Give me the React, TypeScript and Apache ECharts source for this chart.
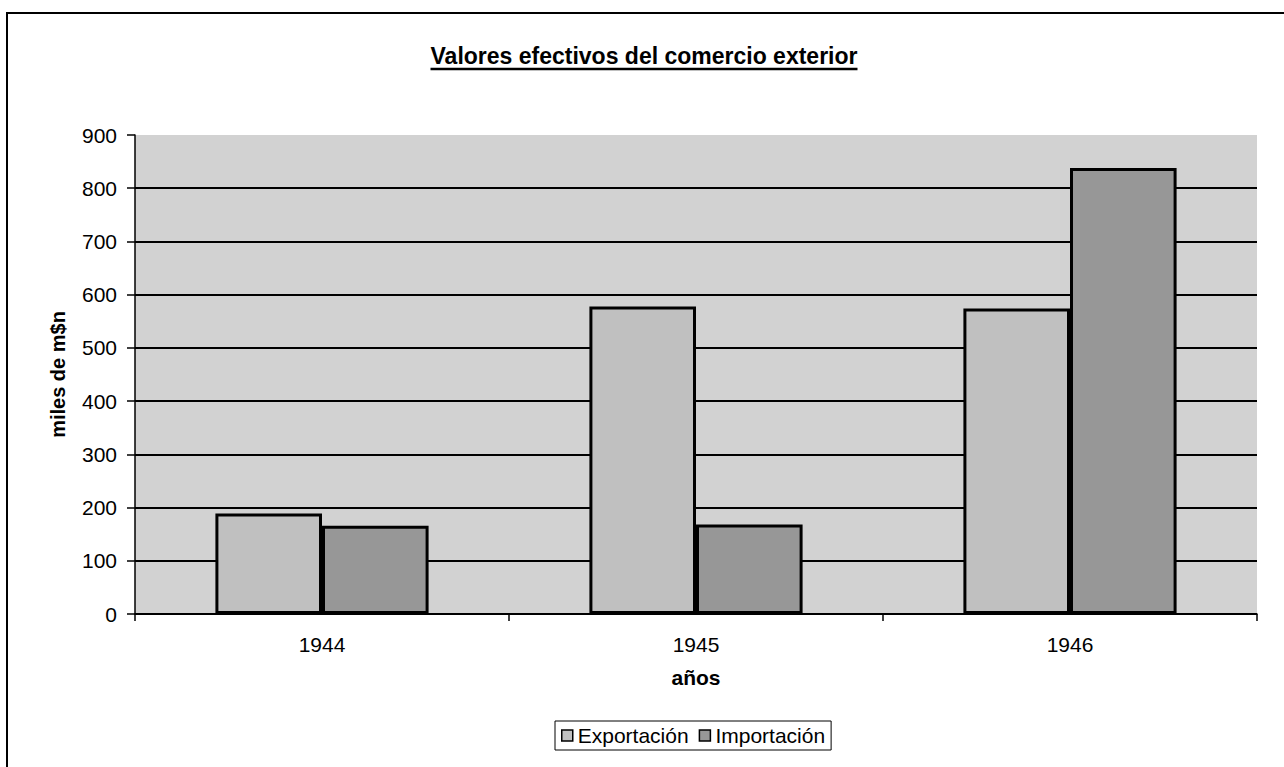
import React, { useEffect, useRef } from "react";
import * as echarts from "echarts";

const years = ["1944", "1945", "1946"];
const exportacion = [189, 578, 574];
const importacion = [166, 168, 838];
const yTicks = { min: 0, max: 900, interval: 100 };
const titleText = "Valores efectivos del comercio exterior";

export default function App() {
  const ref = useRef<HTMLDivElement>(null);
  useEffect(() => {
    document.body.style.margin = "0";
    const chart = echarts.init(ref.current!, null, { renderer: "svg" });
    const font = "Liberation Sans, Arial, sans-serif";
    const titleSize = 23;
    const cnv = document.createElement("canvas");
    const ctx = cnv.getContext("2d")!;
    ctx.font = `bold ${titleSize}px "Liberation Sans"`;
    const tw = ctx.measureText(titleText).width;
    const tcx = 644;
    chart.setOption({
      animation: false,
      backgroundColor: "#ffffff",
      textStyle: { fontFamily: font, color: "#000" },
      grid: {
        left: 135,
        right: 27,
        top: 135,
        bottom: 153,
        show: true,
        backgroundColor: "#d2d2d2",
        borderWidth: 0,
      },
      legend: {
        left: 555,
        top: 721,
        data: ["Exportación", "Importación"],
        icon: "rect",
        itemWidth: 11,
        itemHeight: 11,
        itemGap: 10,
        borderColor: "#000",
        borderWidth: 1,
        padding: [4, 6, 4, 6],
        itemStyle: { borderColor: "#000", borderWidth: 1.5 },
        textStyle: { fontSize: 21, color: "#000", fontFamily: font },
      },
      xAxis: {
        type: "category",
        data: years,
        name: "años",
        nameLocation: "middle",
        nameGap: 53,
        nameTextStyle: { fontSize: 21, fontWeight: "bold", color: "#000" },
        axisLine: { lineStyle: { color: "#000", width: 1.5 } },
        axisTick: { show: true, length: 7, lineStyle: { color: "#000", width: 1.5 } },
        axisLabel: { fontSize: 21, color: "#000", margin: 20 },
      },
      yAxis: {
        type: "value",
        min: yTicks.min,
        max: yTicks.max,
        interval: yTicks.interval,
        name: "miles de m$n",
        nameLocation: "middle",
        nameGap: 67,
        nameTextStyle: { fontSize: 20, fontWeight: "bold", color: "#000" },
        axisLine: { show: true, lineStyle: { color: "#000", width: 1.5 } },
        axisTick: { show: true, length: 8, lineStyle: { color: "#000", width: 1.5 } },
        axisLabel: { fontSize: 21, color: "#000", margin: 18 },
        splitLine: {
          show: true,
          showMaxLine: false,
          lineStyle: { color: "#000", width: 2 },
        },
      },
      series: [
        {
          name: "Exportación",
          type: "bar",
          data: exportacion,
          barGap: "0%",
          barCategoryGap: "43%",
          itemStyle: { color: "#c0c0c0", borderColor: "#000", borderWidth: 3 },
        },
        {
          name: "Importación",
          type: "bar",
          data: importacion,
          itemStyle: { color: "#979797", borderColor: "#000", borderWidth: 3 },
        },
      ],
      graphic: [
        {
          type: "rect",
          shape: { x: 7, y: 13, width: 1400, height: 900 },
          style: { fill: "none", stroke: "#000", lineWidth: 2 },
          silent: true,
        },
        {
          type: "text",
          x: tcx,
          y: 56,
          style: {
            text: titleText,
            fontSize: titleSize,
            fontWeight: "bold",
            fontFamily: font,
            fill: "#000",
            align: "center",
            verticalAlign: "middle",
          },
        },
        {
          type: "line",
          shape: { x1: tcx - tw / 2, y1: 69, x2: tcx + tw / 2, y2: 69 },
          style: { stroke: "#000", lineWidth: 2.5 },
        },
      ],
    });
    return () => chart.dispose();
  }, []);
  return (
    <div
      ref={ref}
      style={{ position: "fixed", left: 0, top: 0, width: 1284, height: 767 }}
    />
  );
}
